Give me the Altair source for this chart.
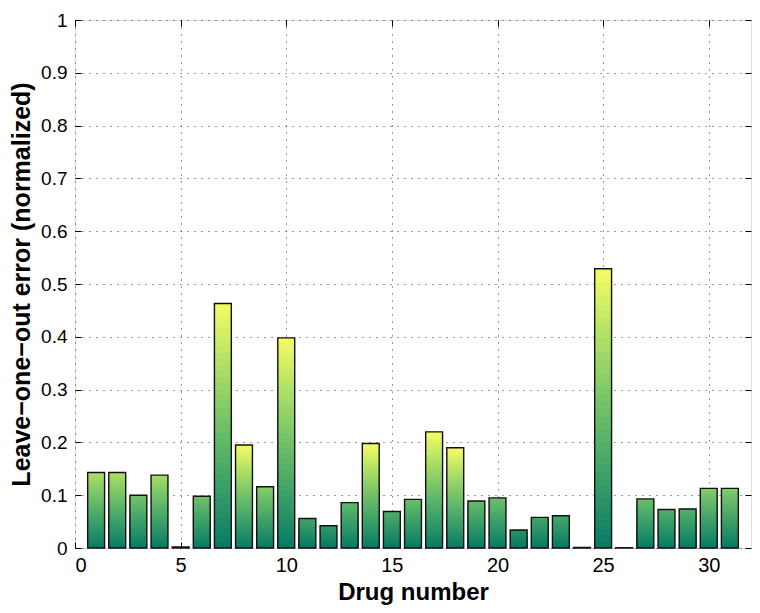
import altair as alt
import pandas as pd

drugs = list(range(1, 32))
errors = [0.143, 0.143, 0.100, 0.138, 0.002, 0.098, 0.463, 0.195, 0.116, 0.398,
          0.056, 0.042, 0.086, 0.198, 0.069, 0.092, 0.220, 0.190, 0.089, 0.095,
          0.034, 0.058, 0.061, 0.001, 0.529, 0.0005, 0.093, 0.073, 0.074, 0.113,
          0.113]
x_ticks = [0, 5, 10, 15, 20, 25, 30]
y_ticks = [0, 0.1, 0.2, 0.3, 0.4, 0.5, 0.6, 0.7, 0.8, 0.9, 1.0]

bars = pd.DataFrame({"drug": drugs, "err": errors})

# gradient segments (shading of each bar from dark green at the base)
K = 40
rows = []
for d, h in zip(drugs, errors):
    top_c = min(1.0, h / 0.19)
    for k in range(K, 0, -1):
        rows.append({"drug": d, "ytop": h * k / K, "c": top_c * k / K})
seg = pd.DataFrame(rows)

W, H = 676, 528
xs = alt.Scale(domain=[0, 32], nice=False, zero=False)
ys = alt.Scale(domain=[0, 1], nice=False)

FONT = "Liberation Sans"
grid_kw = dict(grid=True, gridDash=[1, 6], gridColor="#222222", gridOpacity=0.9, gridWidth=1)

seg_layer = alt.Chart(seg).transform_calculate(
    x0="datum.drug - 0.4", x1="datum.drug + 0.4", y0="0"
).mark_rect(strokeWidth=0).encode(
    x=alt.X("x0:Q", scale=xs, axis=alt.Axis(
        values=x_ticks, title="Drug number", orient="bottom", ticks=False, domain=False,
        labelFontSize=20, labelFont=FONT, labelColor="black", labelPadding=7,
        titleFontSize=24, titleFont=FONT, titleFontWeight="bold", titleColor="black",
        titlePadding=5, **grid_kw)),
    x2="x1:Q",
    y=alt.Y("ytop:Q", scale=ys, axis=alt.Axis(
        values=y_ticks, format="~g", title="Leave\u2212one\u2212out error (normalized)",
        orient="left", ticks=False, domain=False,
        labelFontSize=19, labelFont=FONT, labelColor="black", labelPadding=8,
        titleFontSize=25, titleFont=FONT, titleFontWeight="bold", titleColor="black",
        titlePadding=6, **grid_kw)),
    y2="y0:Q",
    color=alt.Color("c:Q", scale=alt.Scale(domain=[0, 1], range=["#007a62", "#f4fa66"]), legend=None),
)

tick_kw = dict(labels=False, domain=False, grid=False, ticks=True, tickSize=6,
               tickColor="black", tickWidth=1, title=None, offset=-6)

outline = alt.Chart(bars).transform_calculate(
    x0="datum.drug - 0.4", x1="datum.drug + 0.4", y0="0"
).mark_rect(fillOpacity=0, stroke="#111111", strokeWidth=1.4).encode(
    x=alt.X("x0:Q", scale=xs, axis=alt.Axis(values=x_ticks, orient="top", **tick_kw)),
    x2="x1:Q",
    y=alt.Y("err:Q", scale=ys, axis=alt.Axis(values=y_ticks, orient="right", **tick_kw)),
    y2="y0:Q",
)

inner = alt.Chart(bars).transform_calculate(
    x0="datum.drug - 0.4", x1="datum.drug + 0.4", y0="0"
).mark_rect(opacity=0).encode(
    x=alt.X("x0:Q", scale=xs, axis=alt.Axis(values=x_ticks, orient="bottom", **tick_kw)),
    x2="x1:Q",
    y=alt.Y("err:Q", scale=ys, axis=alt.Axis(values=y_ticks, orient="left", **tick_kw)),
    y2="y0:Q",
)

chart = alt.layer(seg_layer, outline, inner).resolve_axis(
    x="independent", y="independent"
).properties(
    width=W, height=H,
    autosize=alt.AutoSizeParams(type="none"),
    padding={"left": 67, "top": 12, "right": 1, "bottom": 57},
).configure_view(stroke="black", strokeWidth=1.2).configure(background="white")

chart.save("out.html", embed_options={"renderer": "svg", "actions": False})
